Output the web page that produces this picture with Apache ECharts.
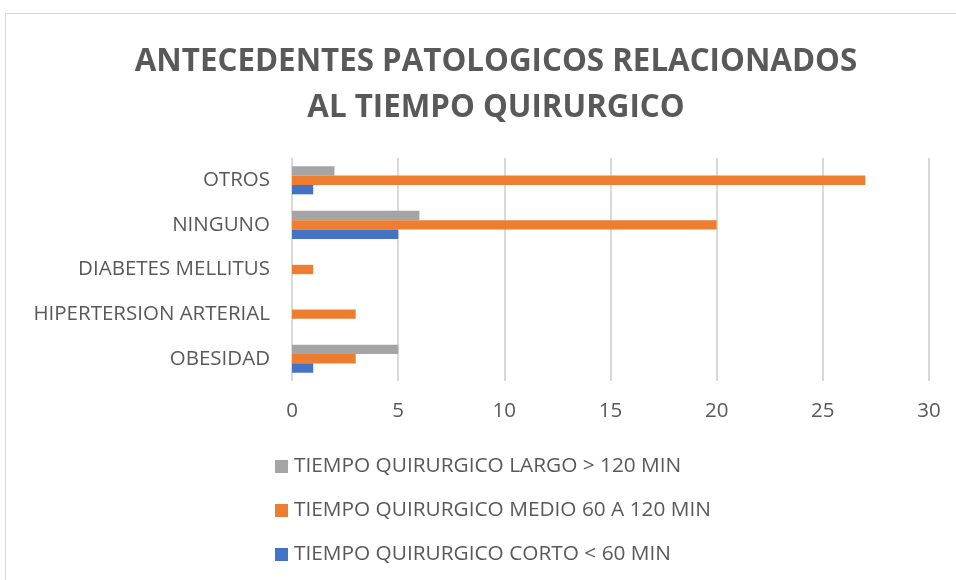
<!DOCTYPE html>
<html><head><meta charset="utf-8">
<script src="https://cdn.jsdelivr.net/npm/echarts@6/dist/echarts.min.js"></script>
<style>html,body{margin:0;padding:0;background:#fff}#c{width:956px;height:580px}</style>
</head><body><div id="c"></div>
<script>
const categories = ['OBESIDAD', 'HIPERTERSION ARTERIAL', 'DIABETES MELLITUS', 'NINGUNO', 'OTROS'];
const seriesNames = ['TIEMPO QUIRURGICO LARGO > 120 MIN', 'TIEMPO QUIRURGICO MEDIO 60 A 120 MIN', 'TIEMPO QUIRURGICO CORTO < 60 MIN'];
const largo = [5, 0, 0, 6, 2];
const medio = [3, 3, 1, 20, 27];
const corto = [1, 0, 0, 5, 1];
const xTicks = [0, 5, 10, 15, 20, 25, 30];
const colors = ['#A5A5A5', '#ED7D31', '#4472C4'];

const chart = echarts.init(document.getElementById('c'));
const font = '"Open Sans", sans-serif';
const values = [largo, medio, corto];
chart.setOption({
  animation: false,
  graphic: [{type: 'rect', shape: {x: 5.5, y: 13.5, width: 1000, height: 700}, style: {fill: 'none', stroke: '#d9d9d9', lineWidth: 1}}],
  title: {
    text: 'ANTECEDENTES PATOLOGICOS RELACIONADOS\nAL TIEMPO QUIRURGICO',
    left: 491, top: 34, textAlign: 'center',
    textStyle: {fontFamily: font, fontSize: 31.3, fontWeight: 'bold', color: '#595959', lineHeight: 46}
  },
  legend: {
    orient: 'vertical', left: 270, top: 451, itemGap: 23, itemWidth: 13, itemHeight: 13,
    icon: 'rect',
    data: seriesNames,
    textStyle: {fontFamily: font, fontSize: 20.8, color: '#595959', padding: [0, 0, 0, 1]}
  },
  grid: {left: 292, right: 27, top: 158, bottom: 199, containLabel: false},
  xAxis: {
    type: 'value', min: xTicks[0], max: xTicks[xTicks.length - 1], interval: 5,
    axisLine: {show: false}, axisTick: {show: false},
    axisLabel: {fontFamily: font, fontSize: 20.5, color: '#595959', margin: 20},
    splitLine: {lineStyle: {color: '#d9d9d9', width: 2}}
  },
  yAxis: {
    type: 'category', data: categories,
    axisLine: {show: false}, axisTick: {show: false},
    axisLabel: {fontFamily: font, fontSize: 20.5, color: '#595959', margin: 22}
  },
  series: values.map((v, i) => ({
    name: seriesNames[i], type: 'bar', data: v,
    barGap: '0%', barCategoryGap: '37%',
    itemStyle: {color: colors[i]}
  }))
});
</script></body></html>
